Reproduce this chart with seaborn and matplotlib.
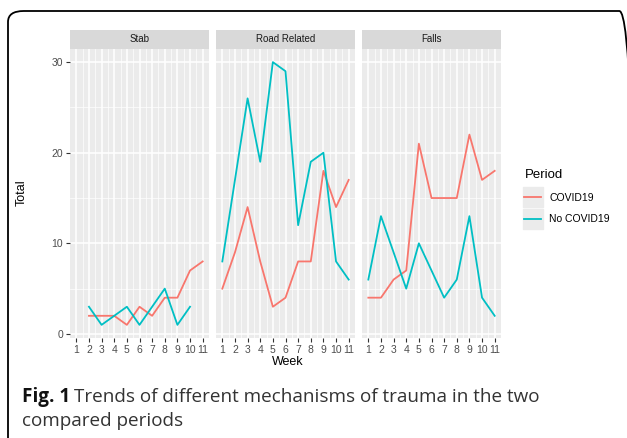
import pandas as pd
import seaborn as sns
import matplotlib
matplotlib.use('Agg')
import matplotlib.pyplot as plt
from matplotlib.patches import FancyBboxPatch, Rectangle
from matplotlib.lines import Line2D

weeks = list(range(1, 12))
mechanisms = ["Stab", "Road Related", "Falls"]
periods = ["COVID19", "No COVID19"]

stab_covid = [None, 2, 2, 2, 1, 3, 2, 4, 4, 7, 8]
stab_no_covid = [None, 3, 1, 2, 3, 1, 3, 5, 1, 3, None]
road_covid = [5, 9, 14, 8, 3, 4, 8, 8, 18, 14, 17]
road_no_covid = [8, 17, 26, 19, 30, 29, 12, 19, 20, 8, 6]
falls_covid = [4, 4, 6, 7, 21, 15, 15, 15, 22, 17, 18]
falls_no_covid = [6, 13, 9, 5, 10, 7, 4, 6, 13, 4, 2]

series = {
    ("Stab", "COVID19"): stab_covid,
    ("Stab", "No COVID19"): stab_no_covid,
    ("Road Related", "COVID19"): road_covid,
    ("Road Related", "No COVID19"): road_no_covid,
    ("Falls", "COVID19"): falls_covid,
    ("Falls", "No COVID19"): falls_no_covid,
}
rows = []
for (mech, per), vals in series.items():
    for w, v in zip(weeks, vals):
        if v is not None:
            rows.append({"Mechanism": mech, "Period": per, "Week": w, "Total": v})
df = pd.DataFrame(rows)

palette = {"COVID19": "#F8766D", "No COVID19": "#00BFC4"}

plt.rcParams['font.family'] = ['Liberation Sans', 'DejaVu Sans']

W, H = 627, 438
fig = plt.figure(figsize=(W / 100, H / 100), dpi=100)
fig.patch.set_facecolor("white")


def rect(l, t, r, b):
    return [l / W, 1 - b / H, (r - l) / W, (b - t) / H]


panel_x = [(70, 209), (216, 355), (362, 501)]
top, bottom, strip_top = 49, 338, 30

for i, (mech, (l, r)) in enumerate(zip(mechanisms, panel_x)):
    ax = fig.add_axes(rect(l, top, r, bottom))
    ax.set_facecolor("#EBEBEB")
    sns.lineplot(data=df[df["Mechanism"] == mech], x="Week", y="Total",
                 hue="Period", palette=palette, hue_order=periods,
                 ax=ax, legend=False, lw=1.3)
    ax.set_xlim(0.5, 11.5)
    ax.set_ylim(-0.45, 31.45)
    ax.set_xticks(weeks)
    ax.set_xticks([w + 0.5 for w in weeks[:-1]], minor=True)
    ax.set_yticks([0, 10, 20, 30])
    ax.set_yticks([5, 15, 25], minor=True)
    ax.grid(which="major", color="white", lw=1.1)
    ax.grid(which="minor", color="white", lw=0.5)
    ax.set_axisbelow(True)
    for s in ax.spines.values():
        s.set_visible(False)
    ax.tick_params(which="major", color="#333333", length=3, width=0.8,
                   labelcolor="#4D4D4D", labelsize=7.5, pad=2)
    ax.tick_params(which="minor", length=0)
    ax.set_xlabel("")
    ax.set_ylabel("")
    if i > 0:
        ax.tick_params(axis="y", left=False, labelleft=False)

    sax = fig.add_axes(rect(l, strip_top, r, top))
    sax.set_facecolor("#D9D9D9")
    sax.set_xticks([])
    sax.set_yticks([])
    for s in sax.spines.values():
        s.set_visible(False)
    sax.text(0.5, 0.5, mech, ha="center", va="center", fontsize=7,
             color="#1A1A1A", transform=sax.transAxes)

fig.text(288 / W, 1 - 362 / H, "Week", ha="center", va="center",
         fontsize=9, color="black")
fig.text(22 / W, 1 - 193 / H, "Total", ha="center", va="center",
         rotation=90, fontsize=9, color="black")

handles = [Line2D([], [], color=palette[p], lw=1.3) for p in periods]
leg = fig.legend(handles, periods, title="Period", frameon=False,
                 loc="upper left", bbox_to_anchor=(515 / W, 1 - 160 / H),
                 fontsize=7.5, title_fontsize=9.5, handlelength=1.6,
                 handletextpad=0.8, labelspacing=1.1, alignment="left")

border = FancyBboxPatch((8 / W, -0.05), 0.2, 1 - 11 / H + 0.05,
                        boxstyle="round,pad=0,rounding_size=0.025",
                        transform=fig.transFigure, fill=False,
                        ec="black", lw=1.3)
border.set_width(1.0)
fig.patches.append(border)

cap_font = dict(fontsize=13.6, family=["Open Sans", "DejaVu Sans"])
cap = fig.text(22 / W, 1 - 402 / H, "Fig. 1", ha="left", va="baseline",
               weight="bold", color="#111111", **cap_font)
fig.canvas.draw()
renderer = fig.canvas.get_renderer()
bb = cap.get_window_extent(renderer)
fig.text(bb.x1 / W + 4 / W, 1 - 402 / H,
         "Trends of different mechanisms of trauma in the two",
         ha="left", va="baseline", color="#333333", **cap_font)
fig.text(22 / W, 1 - 426 / H, "compared periods", ha="left", va="baseline",
         color="#333333", **cap_font)

for h in leg.legend_handles:
    hb = h.get_window_extent(renderer)
    cx, cy = (hb.x0 + hb.x1) / 2, (hb.y0 + hb.y1) / 2
    fig.patches.append(Rectangle(((cx - 10) / W, (cy - 10) / H), 20 / W, 20 / H,
                                 transform=fig.transFigure, color="#EBEBEB",
                                 zorder=-1))

fig.savefig("out.png", dpi=100)
